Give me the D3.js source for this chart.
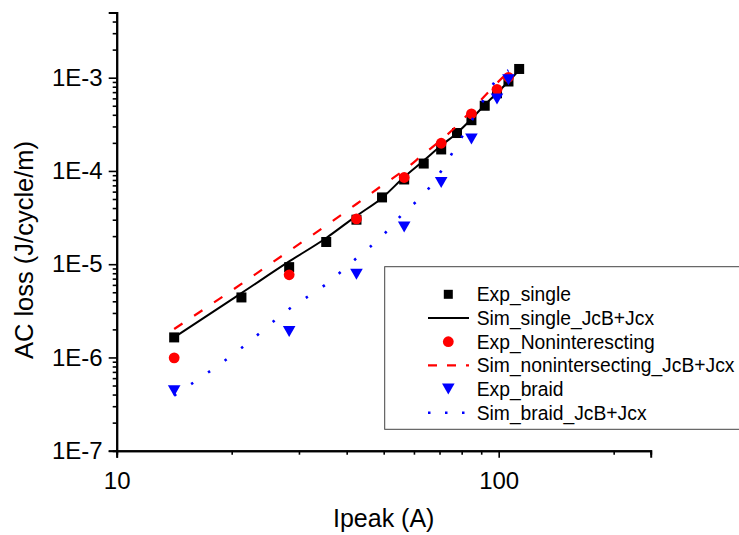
<!DOCTYPE html>
<html>
<head>
<meta charset="utf-8">
<script src="https://cdn.jsdelivr.net/npm/d3@7"></script>
<style>
  body { margin: 0; background: #fff; }
  svg text { font-family: "Liberation Sans", Arial, sans-serif; fill: #000; }
</style>
</head>
<body>
<svg id="chart"></svg>
<script>
// peak currents (A)
const ipeakSingle = [14.14, 21.21, 28.28, 35.36, 42.43, 49.5, 56.57, 63.64, 70.71, 77.78, 84.85, 91.92, 98.99, 106.07, 113.14];
const ipeakOther = [14.14, 28.28, 42.43, 56.57, 70.71, 84.85, 98.99, 106.07];
const ipeakSim = [14.14, 21.21, 28.28, 35.36, 42.43, 49.5, 56.57, 63.64, 70.71, 77.78, 84.85, 91.92, 98.99, 106.07];

// AC loss (J/cycle/m)
const expSingle = [1.64e-6, 4.4e-6, 9.3e-6, 1.73e-5, 3.0e-5, 5.2e-5, 8.1e-5, 1.2e-4, 1.7e-4, 2.55e-4, 3.5e-4, 5.0e-4, 6.8e-4, 9.1e-4, 1.24e-3];
const simSingle = [1.64e-6, 4.9e-6, 1.07e-5, 1.91e-5, 3.3e-5, 5.13e-5, 8.6e-5, 1.29e-4, 1.87e-4, 2.55e-4, 3.6e-4, 5.1e-4, 6.85e-4, 9.1e-4, 1.21e-3];
const expNonint = [9.9e-7, 7.7e-6, 3.06e-5, 8.5e-5, 1.98e-4, 4.1e-4, 7.5e-4, 1.01e-3];
const simNonint = [2.02e-6, 6.14e-6, 1.39e-5, 2.6e-5, 4.42e-5, 6.98e-5, 1.02e-4, 1.52e-4, 2.15e-4, 3.06e-4, 4.45e-4, 6.37e-4, 8.77e-4, 1.15e-3];
const expBraid = [4.4e-7, 1.9e-6, 7.8e-6, 2.5e-5, 7.5e-5, 2.2e-4, 5.9e-4, 9.5e-4];
const simBraid = [3.9e-7, 1.26e-6, 3.31e-6, 6.13e-6, 1.16e-5, 2.0e-5, 3.6e-5, 5.6e-5, 1.0e-4, 1.9e-4, 3.43e-4, 6.05e-4, 9.7e-4, 1.2e-3];

// ticks
const xMajor = [10, 100];
const xMinor = [20, 30, 40, 50, 60, 70, 80, 90, 200];
const yMajor = [1e-7, 1e-6, 1e-5, 1e-4, 1e-3];
const yLabels = ['1E-7', '1E-6', '1E-5', '1E-4', '1E-3'];

const legendNames = ['Exp_single', 'Sim_single_JcB+Jcx', 'Exp_Noninterescting',
  'Sim_nonintersecting_JcB+Jcx', 'Exp_braid', 'Sim_braid_JcB+Jcx'];

const width = 739, height = 535;
const plot = { left: 116.7, right: 650.7, top: 12.5, bottom: 450.7 };

const svg = d3.select('#chart')
    .attr('width', width)
    .attr('height', height);

const xScale = d3.scaleLog().domain([10, 250]).range([plot.left, plot.right]);
const yScale = d3.scaleLog().domain([1e-7, 5e-3]).range([plot.bottom, plot.top]);

// y minor ticks 2..9 of each decade, up to the top of the axis
let yMinor = [];
yMajor.forEach(m => {
    for (let k = 2; k <= 9; k++) {
        if (m * k <= 5.0001e-3) yMinor.push(m * k);
    }
});

// axes
const yAxisMinor = d3.axisLeft(yScale).tickValues(yMinor).tickSize(4).tickFormat('');
const yAxisMajor = d3.axisLeft(yScale).tickValues(yMajor).tickSize(8).tickPadding(6)
    .tickFormat((d, i) => yLabels[i]);
const xAxisMinor = d3.axisBottom(xScale).tickValues(xMinor).tickSize(4).tickFormat('');
const xAxisMajor = d3.axisBottom(xScale).tickValues(xMajor).tickSize(7).tickPadding(14)
    .tickFormat(d3.format('d'));

function styleAxis(g) {
    g.selectAll('.domain').attr('stroke', '#000').attr('stroke-width', 2);
    g.selectAll('.tick line').attr('stroke', '#000').attr('stroke-width', 1.6);
    g.selectAll('.tick text').attr('font-size', 24).attr('fill', '#000')
        .attr('font-family', '"Liberation Sans", Arial, sans-serif');
}

svg.append('g').attr('transform', `translate(${plot.left},0)`).call(yAxisMinor).call(styleAxis);
svg.append('g').attr('transform', `translate(${plot.left},0)`).call(yAxisMajor).call(styleAxis);
svg.append('g').attr('transform', `translate(0,${plot.bottom})`).call(xAxisMinor).call(styleAxis);
svg.append('g').attr('transform', `translate(0,${plot.bottom})`).call(xAxisMajor).call(styleAxis);

// axis titles
svg.append('text')
    .attr('x', 383.7)
    .attr('y', 527)
    .attr('text-anchor', 'middle')
    .attr('font-size', 25)
    .text('Ipeak (A)');

svg.append('text')
    .attr('transform', 'translate(33,250) rotate(-90)')
    .attr('text-anchor', 'middle')
    .attr('font-size', 25.5)
    .text('AC loss (J/cycle/m)');

// marks
const line = d3.line()
    .x(d => xScale(d[0]))
    .y(d => yScale(d[1]))
    .curve(d3.curveMonotoneX);

const zip = (xs, ys) => ys.map((v, i) => [xs[i], v]);

const triPath = 'M-6.3,-5.5L6.3,-5.5L0,5.5Z';

const marks = svg.append('g');

marks.selectAll('.sq')
    .data(zip(ipeakSingle, expSingle))
    .join('rect')
    .attr('class', 'sq')
    .attr('x', d => xScale(d[0]) - 5)
    .attr('y', d => yScale(d[1]) - 5)
    .attr('width', 10)
    .attr('height', 10)
    .attr('fill', '#000');

marks.append('path')
    .datum(zip(ipeakSingle, simSingle))
    .attr('d', line)
    .attr('fill', 'none')
    .attr('stroke', '#000')
    .attr('stroke-width', 2);

marks.selectAll('.circ')
    .data(zip(ipeakOther, expNonint))
    .join('circle')
    .attr('class', 'circ')
    .attr('cx', d => xScale(d[0]))
    .attr('cy', d => yScale(d[1]))
    .attr('r', 5.4)
    .attr('fill', '#ff0000');

marks.append('path')
    .datum(zip(ipeakSim, simNonint))
    .attr('d', line)
    .attr('fill', 'none')
    .attr('stroke', '#ff0000')
    .attr('stroke-width', 2.2)
    .attr('stroke-dasharray', '10,14');

marks.selectAll('.tri')
    .data(zip(ipeakOther, expBraid))
    .join('path')
    .attr('class', 'tri')
    .attr('transform', d => `translate(${xScale(d[0])},${yScale(d[1])})`)
    .attr('d', triPath)
    .attr('fill', '#0000ff');

marks.append('path')
    .datum(zip(ipeakSim, simBraid))
    .attr('d', line)
    .attr('fill', 'none')
    .attr('stroke', '#0000ff')
    .attr('stroke-width', 2.6)
    .attr('stroke-dasharray', '2.5,18');

// legend
const legend = svg.append('g');

legend.append('rect')
    .attr('x', 384.7)
    .attr('y', 266.7)
    .attr('width', 360)
    .attr('height', 162.6)
    .attr('fill', '#fff')
    .attr('stroke', '#444')
    .attr('stroke-width', 1);

const rowY = i => 294.3 + i * 23.7;
const symX = 448.3;

legendNames.forEach((name, i) => {
    legend.append('text')
        .attr('x', 476.7)
        .attr('y', rowY(i) + 6.8)
        .attr('font-size', 19.3)
        .text(name);
});

legend.append('rect')
    .attr('x', symX - 4.5).attr('y', rowY(0) - 4.5)
    .attr('width', 9).attr('height', 9)
    .attr('fill', '#000');
legend.append('line')
    .attr('x1', 428).attr('x2', 469)
    .attr('y1', rowY(1)).attr('y2', rowY(1))
    .attr('stroke', '#000').attr('stroke-width', 2);
legend.append('circle')
    .attr('cx', symX).attr('cy', rowY(2)).attr('r', 5.4)
    .attr('fill', '#ff0000');
legend.append('line')
    .attr('x1', 428).attr('x2', 469)
    .attr('y1', rowY(3)).attr('y2', rowY(3))
    .attr('stroke', '#ff0000').attr('stroke-width', 2.2)
    .attr('stroke-dasharray', '9,10');
legend.append('path')
    .attr('transform', `translate(${symX},${rowY(4)})`)
    .attr('d', triPath)
    .attr('fill', '#0000ff');
legend.append('line')
    .attr('x1', 428).attr('x2', 469)
    .attr('y1', rowY(5)).attr('y2', rowY(5))
    .attr('stroke', '#0000ff').attr('stroke-width', 2.6)
    .attr('stroke-dasharray', '2.5,14.5');
</script>
</body>
</html>
